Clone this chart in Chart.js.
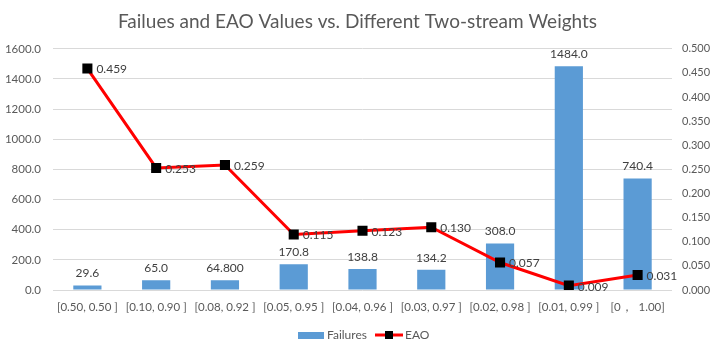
<!DOCTYPE html>
<html>
<head>
<meta charset="utf-8">
<script src="https://cdn.jsdelivr.net/npm/chart.js@4"></script>
<style>
  html, body { margin: 0; padding: 0; background: #fff; }
  #wrap { width: 715px; height: 345px; }
</style>
</head>
<body>
<div id="wrap"><canvas id="chart" width="715" height="345"></canvas></div>
<script>
// 차트 데이터
const weights = ['[0.50, 0.50 ]', '[0.10, 0.90 ]', '[0.08, 0.92 ]', '[0.05, 0.95 ]', '[0.04, 0.96 ]',
                 '[0.03, 0.97 ]', '[0.02, 0.98 ]', '[0.01, 0.99 ]', '[0，  1.00]'];
const failures = [29.6, 65.0, 64.8, 170.8, 138.8, 134.2, 308.0, 1484.0, 740.4];
const failureLabels = ['29.6', '65.0', '64.800', '170.8', '138.8', '134.2', '308.0', '1484.0', '740.4'];
const eao = [0.459, 0.253, 0.259, 0.115, 0.123, 0.130, 0.057, 0.009, 0.031];

const FONT = "Lato, 'Open Sans', sans-serif";
const textGray = '#595959';

// 값 라벨 + 범례 그리기
const labelPlugin = {
    id: 'valueLabels',
    afterDatasetsDraw(chart) {
        const ctx = chart.ctx;
        ctx.save();
        ctx.font = '12px ' + FONT;
        ctx.fillStyle = '#404040';

        // 막대 값
        const barMeta = chart.getDatasetMeta(1);
        ctx.textAlign = 'center';
        ctx.textBaseline = 'bottom';
        barMeta.data.forEach((bar, i) => {
            ctx.fillText(failureLabels[i], bar.x, bar.y - 6);
        });

        // EAO 값
        const lineMeta = chart.getDatasetMeta(0);
        ctx.textAlign = 'left';
        ctx.textBaseline = 'middle';
        lineMeta.data.forEach((pt, i) => {
            ctx.fillText(eao[i].toFixed(3), pt.x + 9, pt.y + 1);
        });

        // 범례
        const ly = 335;
        ctx.fillStyle = '#5B9BD5';
        ctx.fillRect(298, ly - 3, 26, 7);
        ctx.fillStyle = textGray;
        ctx.fillText('Failures', 327, ly);
        ctx.strokeStyle = '#FF0000';
        ctx.lineWidth = 3;
        ctx.beginPath();
        ctx.moveTo(375, ly);
        ctx.lineTo(403, ly);
        ctx.stroke();
        ctx.fillStyle = '#000';
        ctx.fillRect(385, ly - 4, 8, 8);
        ctx.fillStyle = textGray;
        ctx.fillText('EAO', 405, ly);
        ctx.restore();
    }
};

new Chart(document.getElementById('chart'), {
    data: {
        labels: weights,
        datasets: [{
            type: 'line',
            label: 'EAO',
            data: eao,
            yAxisID: 'y1',
            borderColor: '#FF0000',
            borderWidth: 3,
            pointStyle: 'rect',
            pointRadius: 5,
            pointBackgroundColor: '#000',
            pointBorderColor: '#000',
            tension: 0,
            order: 0
        }, {
            type: 'bar',
            label: 'Failures',
            data: failures,
            yAxisID: 'y',
            backgroundColor: '#5B9BD5',
            barPercentage: 0.41,
            categoryPercentage: 1.0,
            order: 1
        }]
    },
    options: {
        responsive: false,
        animation: false,
        layout: { padding: { top: 0, bottom: 20, left: 0, right: 0 } },
        plugins: {
            legend: { display: false },
            tooltip: { enabled: false },
            title: {
                display: true,
                text: 'Failues and EAO Values vs. Different Two-stream Weights',
                color: textGray,
                font: { family: FONT, size: 19, weight: 'normal' },
                padding: { top: 10, bottom: 16 }
            }
        },
        scales: {
            x: {
                grid: { display: false },
                border: { display: false },
                ticks: {
                    color: textGray,
                    font: { family: FONT, size: 11.5 },
                    maxRotation: 0,
                    autoSkip: false,
                    padding: 2
                },
                afterFit(scale) { scale.height = 35; }
            },
            y: {
                position: 'left',
                min: 0,
                max: 1600,
                border: { display: false },
                grid: { color: '#d9d9d9', drawTicks: false },
                ticks: {
                    stepSize: 200,
                    color: textGray,
                    font: { family: FONT, size: 11.5 },
                    padding: 12,
                    callback: v => v.toFixed(1)
                },
                afterFit(scale) { scale.width = 53; }
            },
            y1: {
                position: 'right',
                min: 0,
                max: 0.5,
                border: { display: false },
                grid: { display: false, drawTicks: false },
                ticks: {
                    stepSize: 0.05,
                    color: textGray,
                    font: { family: FONT, size: 11 },
                    padding: 10,
                    callback: v => v.toFixed(3)
                },
                afterFit(scale) { scale.width = 43; }
            }
        }
    },
    plugins: [labelPlugin]
});
</script>
</body>
</html>
